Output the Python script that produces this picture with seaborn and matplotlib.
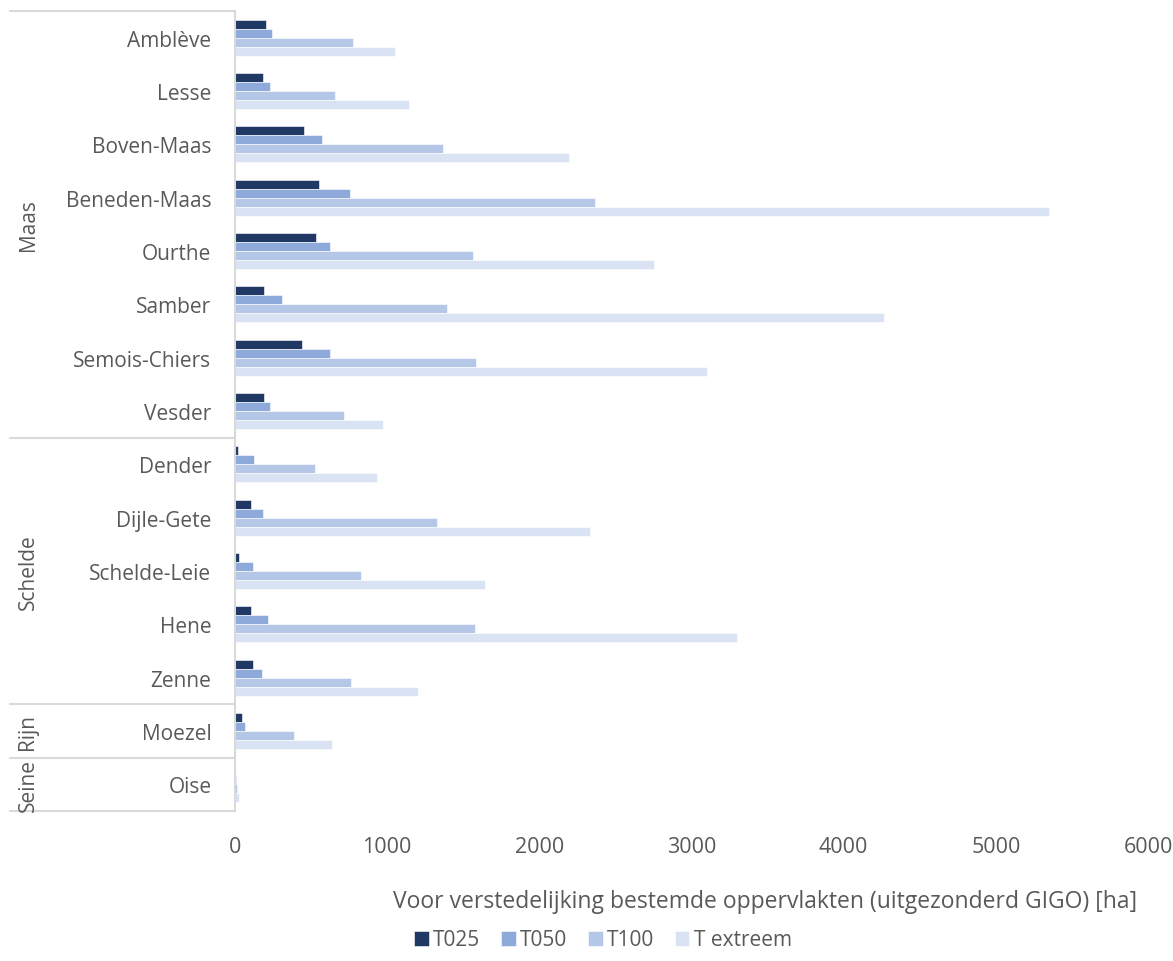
import matplotlib
matplotlib.use("Agg")
import matplotlib.pyplot as plt
import matplotlib.transforms as mtransforms
from matplotlib.lines import Line2D
import pandas as pd
import seaborn as sns

# Deelbekkens, van boven naar onder
gebieden = ["Amblève", "Lesse", "Boven-Maas", "Beneden-Maas", "Ourthe", "Samber",
            "Semois-Chiers", "Vesder", "Dender", "Dijle-Gete", "Schelde-Leie",
            "Hene", "Zenne", "Moezel", "Oise"]
# Stroomgebieden met het aantal deelbekkens
stroomgebieden = ["Maas", "Schelde", "Rijn", "Seine"]
aantal_per_stroomgebied = [8, 5, 1, 1]

reeksen = ["T025", "T050", "T100", "T extreem"]
t025 = [204, 186, 453, 554, 534, 193, 440, 193, 20, 105, 28, 105, 120, 46, 2]
t050 = [243, 232, 570, 754, 622, 307, 624, 228, 125, 186, 116, 219, 177, 64, 5]
t100 = [775, 657, 1367, 2367, 1562, 1393, 1581, 718, 526, 1329, 826, 1577, 760, 386, 13]
t_extreem = [1051, 1143, 2194, 5348, 2751, 4262, 3101, 972, 931, 2330, 1645, 3298, 1200, 639, 26]

x_ticks = [0, 1000, 2000, 3000, 4000, 5000, 6000]
x_label = "Voor verstedelijking bestemde oppervlakten (uitgezonderd GIGO) [ha]"

kleuren = ["#203864", "#8eaadb", "#b4c7e7", "#dae3f3"]
tekstkleur = "#595959"
lijnkleur = "#d9d9d9"

sns.set_theme(style="white")
plt.rcParams["font.family"] = ["Open Sans", "DejaVu Sans"]

df = pd.DataFrame({
    "gebied": gebieden * 4,
    "ha": t025 + t050 + t100 + t_extreem,
    "reeks": [r for r in reeksen for _ in gebieden],
})

fig = plt.figure(figsize=(11.73, 9.62), dpi=100)
W, H = 1173, 962
left, right, top, bottom = 235, 1148, 12, 812
ax = fig.add_axes([left / W, 1 - bottom / H, (right - left) / W, (bottom - top) / H])

sns.barplot(data=df, x="ha", y="gebied", hue="reeks", order=gebieden,
            hue_order=reeksen, palette=kleuren, saturation=1, orient="h",
            width=0.68, edgecolor="white", linewidth=0.4, ax=ax)

ax.set_xlim(0, 6000)
ax.set_ylim(len(gebieden) - 0.5, -0.5)
ax.set_xticks(x_ticks)
ax.set_xticklabels([str(t) for t in x_ticks])
ax.tick_params(axis="x", length=0, pad=18, labelsize=15.5, labelcolor=tekstkleur)
ax.tick_params(axis="y", length=0, pad=17, labelsize=15, labelcolor=tekstkleur)
ax.set_xlabel("")
ax.set_ylabel("")
ax.grid(False)

for s in ["top", "right", "bottom"]:
    ax.spines[s].set_visible(False)
ax.spines["left"].set_color(lijnkleur)
ax.spines["left"].set_linewidth(1.5)

# Tweede categorie-as: stroomgebieden met scheidingslijnen
trans = mtransforms.blended_transform_factory(ax.transAxes, ax.transData)
x_lijn = (10 - left) / (right - left)
x_groep = (28 - left) / (right - left)
grens = -0.5
ax.add_line(Line2D([x_lijn, 0], [grens, grens], transform=trans, color=lijnkleur,
                   lw=1.5, clip_on=False))
for naam, n in zip(stroomgebieden, aantal_per_stroomgebied):
    midden = grens + n / 2
    ax.text(x_groep, midden, naam, transform=trans, rotation=90, ha="center",
            va="center", fontsize=15, color=tekstkleur, clip_on=False)
    grens += n
    ax.add_line(Line2D([x_lijn, 0], [grens, grens], transform=trans, color=lijnkleur,
                       lw=1.5, clip_on=False))

fig.text(765 / W, 1 - 902 / H, x_label, ha="center", va="center",
         fontsize=16.5, color=tekstkleur)

handles, labels = ax.get_legend_handles_labels()
ax.get_legend().remove()
fig.legend(handles, labels, loc="center", bbox_to_anchor=(603 / W, 1 - 941 / H),
           ncol=4, frameon=False, fontsize=15, labelcolor=tekstkleur,
           handlelength=0.7, handleheight=0.7, handletextpad=0.2,
           columnspacing=1.0)

fig.savefig("out.png", dpi=100, facecolor="white")
